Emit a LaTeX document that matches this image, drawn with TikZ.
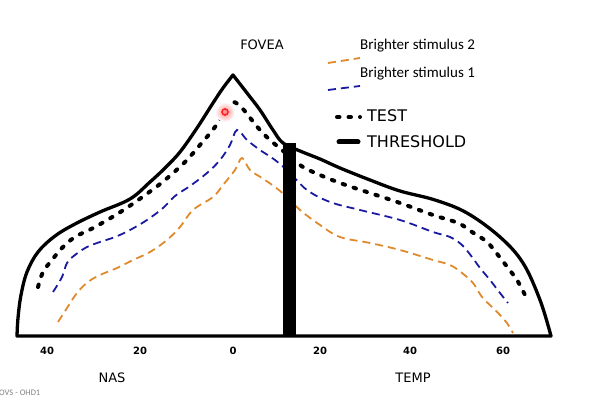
\documentclass[tikz,border=0pt]{standalone}
\usepackage{fontspec}
\setmainfont{Carlito}
\newfontfamily\handfont{DejaVu Sans}
\usetikzlibrary{positioning}
\definecolor{StimOrange}{HTML}{E08A2E}
\definecolor{StimBlue}{HTML}{1A1AA0}
\definecolor{SpotRed}{HTML}{FF2020}

\begin{document}
\begin{tikzpicture}[
  x=1pt, y=-1pt,
  hand/.style={font=\handfont\fontsize{#1}{#1}\selectfont, inner sep=0pt},
  hand/.default=12,
  legendtext/.style={font=\fontsize{15}{17}\selectfont, anchor=west, inner sep=0pt},
  outline/.style={line width=3.3pt, line join=round},
  testline/.style={line width=4pt, line cap=round, dash pattern=on 2.5pt off 9pt},
  stimone/.style={StimBlue, line width=1.8pt, dash pattern=on 8pt off 5pt},
  stimtwo/.style={StimOrange, line width=1.8pt, dash pattern=on 8pt off 5pt}
]
  \useasboundingbox (0,0) rectangle (592,398);

  % visual field outline
  \draw[outline] plot[smooth, tension=0.6] coordinates {
      (17,336) (18,318) (21,295) (27,272) (38,252) (55,236) (75,224) (100,212)
      (130,199) (150,182) (165,168) (180,152) (197,128) (213,103) (223,88) (233,75)}
    -- plot[smooth, tension=0.6] coordinates {
      (233,75) (247,93) (260,110) (273,130) (283,143) (300,151) (320,159) (340,168)
      (370,180) (400,191) (435,200) (467,213) (500,237) (523,263) (540,300) (551,336)}
    -- cycle;

  % test isopter
  \draw[testline] plot[smooth, tension=0.6] coordinates {
    (38,287) (43,272) (52,260) (62,248) (75,237) (95,227) (122,211) (148,193)
    (165,180) (185,162) (200,145) (215,127) (226,110) (233,102) (242,108) (251,119)
    (260,130) (270,140) (282,150) (300,165) (313,172) (340,183) (370,193) (400,203)
    (433,215) (458,223) (472,232) (487,242) (498,255) (508,268) (517,280) (525,295)};

  % brighter stimulus 1
  \draw[stimone] plot[smooth, tension=0.6] coordinates {
    (53,292) (62,277) (67,263) (75,255) (87,247) (100,242) (115,237) (130,230)
    (147,220) (163,208) (175,196) (190,186) (207,173) (220,160) (230,145) (237,130)
    (247,140) (260,150) (275,160) (290,173) (307,190) (330,202) (360,210) (400,220)
    (433,232) (450,237) (462,245) (472,257) (480,268) (490,280) (500,293) (508,303)};

  % brighter stimulus 2
  \draw[stimtwo] plot[smooth, tension=0.6] coordinates {
    (58,322) (67,308) (77,293) (88,282) (100,275) (117,268) (133,260) (150,252)
    (167,240) (180,227) (193,210) (213,197) (223,185) (235,170) (242,158) (250,170)
    (262,178) (275,187) (287,197) (300,210) (320,225) (340,237) (370,243) (400,250)
    (433,260) (450,265) (462,273) (473,283) (482,297) (492,307) (500,315) (507,323)
    (513,333)};

  % threshold bar
  \fill (283,143) rectangle (296,337);

  % red spot
  \shade[inner color=red!45, outer color=white] (225,112) circle (10);
  \draw[SpotRed, line width=1.6pt] (225,112) circle (3);

  % labels
  \node[hand=13] (fovea) at (262,45) {FOVEA};
  \node[legendtext] (stimtwolbl) at (360,46) {Brighter stimulus 2};
  \node[legendtext] (stimonelbl) at (360,74) {Brighter stimulus 1};
  \node[hand=16, anchor=west] (testlbl) at (367,116) {TEST};
  \node[hand=16, anchor=west] (threshlbl) at (367,142) {THRESHOLD};

  \draw[stimtwo] (328,63) -- (360,58);
  \draw[stimone] (328,90) -- (360,86);
  \draw[testline] (337,117) -- (360,117);
  \draw[line width=5pt, line cap=round] (339,142) -- (358,142);

  % axis numbers
  \node[hand=10] (nfourty) at (47,351) {\textbf{40}};
  \node[hand=10] (ntwenty) at (140,351) {\textbf{20}};
  \node[hand=10] (zero) at (233,351) {\textbf{0}};
  \node[hand=10] (ttwenty) at (320,351) {\textbf{20}};
  \node[hand=10] (tfourty) at (410,351) {\textbf{40}};
  \node[hand=10] (tsixty) at (503,351) {\textbf{60}};
  \node[hand=13] (nas) at (112,378) {NAS};
  \node[hand=13] (temp) at (413,378) {TEMP};
  \node[font=\fontsize{8.5}{9}\selectfont, text=gray, anchor=west, inner sep=0pt] (src) at (-1,393) {OVS - OHD1};
\end{tikzpicture}
\end{document}
